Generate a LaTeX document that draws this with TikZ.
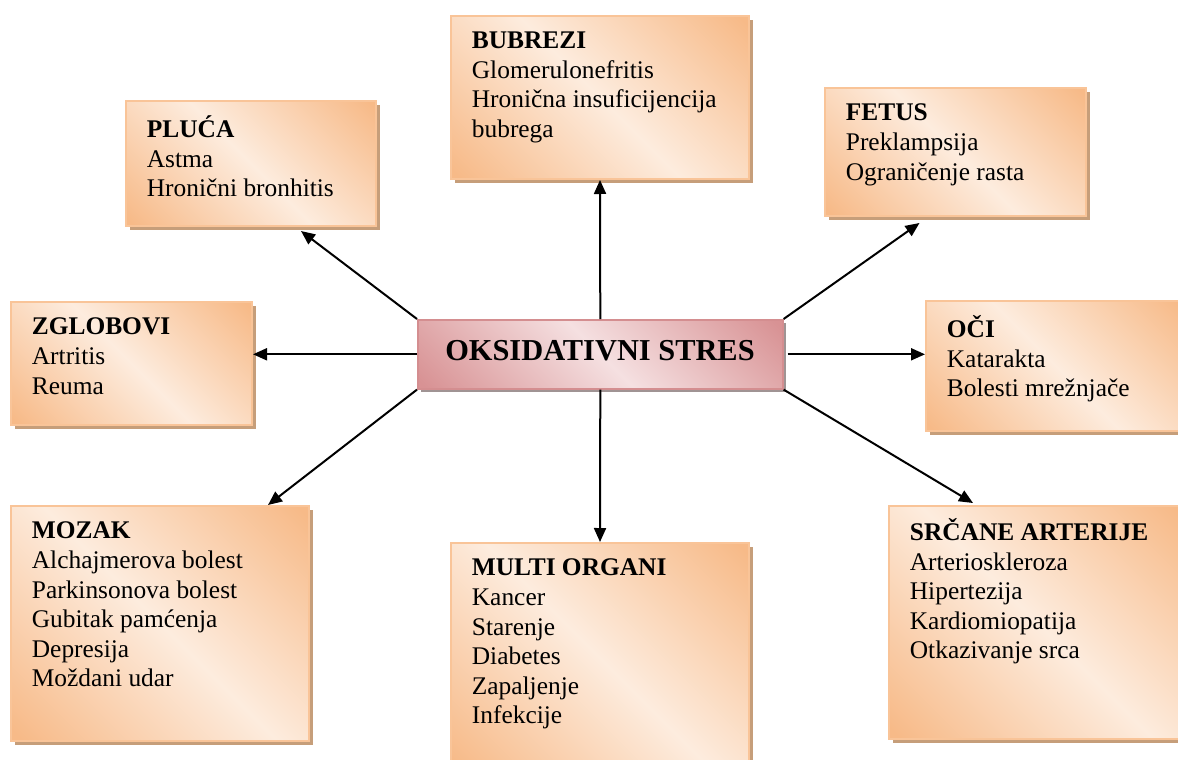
\documentclass[tikz,border=0pt]{standalone}
\usepackage{fontspec}
\setmainfont{Liberation Serif}
\usetikzlibrary{arrows.meta,shadows,calc}

% palette
\definecolor{odk}{RGB}{247,186,136}
\definecolor{olt}{RGB}{253,236,222}
\definecolor{oline}{RGB}{249,196,152}
\definecolor{oshd}{RGB}{198,158,122}
\definecolor{pdk}{RGB}{216,146,148}
\definecolor{plt}{RGB}{245,224,225}
\definecolor{pline}{RGB}{212,142,144}
\definecolor{pshd}{RGB}{160,148,148}

% diagonal dark-light-dark fills
\pgfdeclarehorizontalshading{orgrad}{100bp}{color(0bp)=(odk); color(16bp)=(odk); color(50bp)=(olt); color(84bp)=(odk); color(100bp)=(odk)}
\pgfdeclarehorizontalshading{pkgrad}{100bp}{color(0bp)=(pdk); color(16bp)=(pdk); color(50bp)=(plt); color(84bp)=(pdk); color(100bp)=(pdk)}

\tikzset{
  organ/.style={shape=rectangle, shade, shading=orgrad, shading angle=45,
    draw=oline, line width=1pt, inner sep=0pt, anchor=north west,
    drop shadow={shadow xshift=2pt, shadow yshift=-2pt, fill=oshd, opacity=1}},
  core/.style={shape=rectangle, shade, shading=pkgrad, shading angle=45,
    draw=pline, line width=0.8pt, inner sep=0pt, anchor=north west,
    minimum width=182.5pt, minimum height=34.5pt,
    drop shadow={shadow xshift=1.6pt, shadow yshift=-1.6pt, fill=pshd, opacity=1}},
  lines/.style={anchor=north west, inner sep=0pt, align=left,
    font=\fontsize{12.7pt}{14.8pt}\selectfont, execute at begin node=\strut},
  link/.style={line width=1pt, -{Triangle[length=7pt,width=6pt]}},
}

\begin{document}
\begin{tikzpicture}[x=0.5pt, y=-0.5pt]
\useasboundingbox (0,0) rectangle (1178,760);

% organ boxes
\node[organ, minimum width=125pt,  minimum height=62.5pt] (plu) at (125,100) {};
\node[organ, minimum width=149pt,  minimum height=81.5pt] (bub) at (450,15) {};
\node[organ, minimum width=130.5pt,minimum height=64pt]   (fet) at (824,87) {};
\node[organ, minimum width=120.5pt,minimum height=61.5pt] (zgl) at (10,301) {};
\node[organ, minimum width=130pt,  minimum height=65pt]   (oci) at (925,300) {};
\node[organ, minimum width=149pt,  minimum height=117.5pt](moz) at (10,505) {};
\node[organ, minimum width=149pt,  minimum height=115pt]  (mul) at (450,542) {};
\node[organ, minimum width=148pt,  minimum height=116.5pt](src) at (888,505) {};

% central box
\node[core] (ctr) at (417,319) {};
\node[anchor=base, inner sep=0pt, font=\bfseries\fontsize{15.2pt}{18pt}\selectfont] (ctr-t) at (600,360) {OKSIDATIVNI STRES};

% box texts
\node[lines] (plu-t) at ([shift={(10.75pt,-7.8pt)}]plu.north west) {\textbf{PLUĆA}\\Astma\\Hronični bronhitis};
\node[lines] (bub-t) at ([shift={(10.75pt,-8.3pt)}]bub.north west) {\textbf{BUBREZI}\\Glomerulonefritis\\Hronična insuficijencija\\bubrega};
\node[lines] (fet-t) at ([shift={(10.75pt,-8.3pt)}]fet.north west) {\textbf{FETUS}\\Preklampsija\\Ograničenje rasta};
\node[lines] (zgl-t) at ([shift={(10.75pt,-8.3pt)}]zgl.north west) {\textbf{ZGLOBOVI}\\Artritis\\Reuma};
\node[lines] (oci-t) at ([shift={(10.75pt,-7.5pt)}]oci.north west) {\textbf{OČI}\\Katarakta\\Bolesti mrežnjače};
\node[lines] (moz-t) at ([shift={(10.75pt,-8.3pt)}]moz.north west) {\textbf{MOZAK}\\Alchajmerova bolest\\Parkinsonova bolest\\Gubitak pamćenja\\Depresija\\Moždani udar};
\node[lines] (mul-t) at ([shift={(10.75pt,-8.3pt)}]mul.north west) {\textbf{MULTI ORGANI}\\Kancer\\Starenje\\Diabetes\\Zapaljenje\\Infekcije};
\node[lines] (src-t) at ([shift={(10.75pt,-6.5pt)}]src.north west) {\textbf{SRČANE ARTERIJE}\\Arterioskleroza\\Hipertezija\\Kardiomiopatija\\Otkazivanje srca};

% arrows from the centre
\draw[link] (ctr.north west) -- ([shift={(25pt,-2pt)}]plu.south);
\draw[link] (ctr.north) -- (bub.south);
\draw[link] (ctr.north east) -- ([shift={(-18pt,-3pt)}]fet.south);
\draw[link] (ctr.west) -- (ctr.west -| zgl.east);
\draw[link] ([xshift=2pt]ctr.east) -- (ctr.east -| oci.west);
\draw[link] (ctr.south west) -- ([xshift=-21pt]moz.north east);
\draw[link] (ctr.south) -- (mul.north);
\draw[link] (ctr.south east) -- ([shift={(42.5pt,1pt)}]src.north west);
\end{tikzpicture}
\end{document}
